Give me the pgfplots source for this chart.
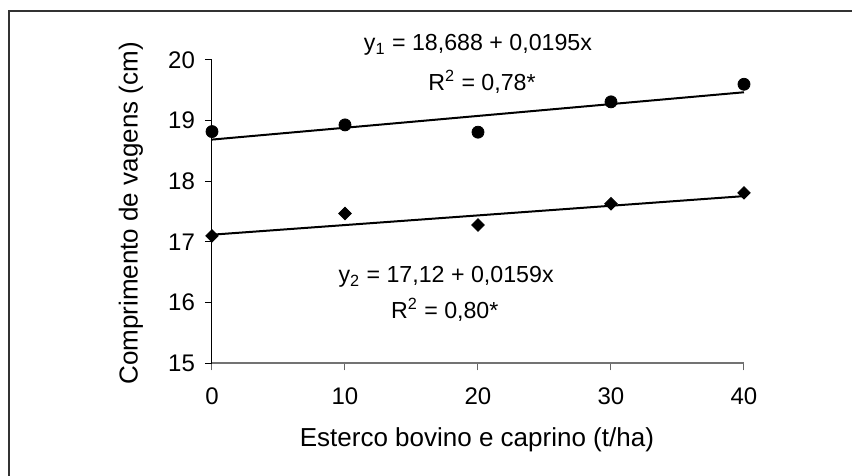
\documentclass[border=0pt]{standalone}
\usepackage{pgfplots}
\pgfplotsset{compat=1.18}
\usepackage{fontspec}
\setmainfont{Liberation Sans}
\begin{document}
\begin{tikzpicture}
\useasboundingbox (0pt,0pt) rectangle (426pt,238pt);
\draw[line width=0.9pt, black!80] (4.5pt,0pt) -- (4.5pt,232.5pt) -- (426pt,232.5pt);
\begin{axis}[
  at={(106pt,56.35pt)}, anchor=south west,
  scale only axis, width=266pt, height=151.65pt,
  xmin=0, xmax=40, ymin=15, ymax=20,
  axis x line=bottom, axis y line=left,
  axis line style={-},
  x axis line style={draw=black!55, line width=0.9pt},
  y axis line style={draw=black, line width=0.5pt},
  xtick={0,10,20,30,40}, ytick={15,16,17,18,19,20},
  tick align=outside, major tick length=3.5pt,
  xtick style={draw=black!60, line width=0.5pt},
  ytick style={draw=black, line width=0.5pt},
  tick label style={font=\fontsize{12}{14}\selectfont},
  /pgf/number format/assume math mode=true,
  xticklabel style={yshift=-5pt},
  yticklabel style={xshift=-1.5pt},
  clip=false,
]
\addplot[black, line width=1pt] coordinates {(0,18.688) (40,19.468)};
\addplot[black, line width=1pt] coordinates {(0,17.12) (40,17.756)};
\addplot[only marks, mark=*, mark size=3pt, black] coordinates {
 (0,18.82) (10,18.93) (20,18.81) (30,19.31) (40,19.60)};
\addplot[only marks, mark=square*, mark size=2.2pt, black, mark options={rotate=45}] coordinates {
 (0,17.10) (10,17.47) (20,17.28) (30,17.63) (40,17.81)};
\node[font=\fontsize{11.6}{13}\selectfont] at (axis cs:20.0,20.25) {y\textsubscript{1} = 18,688 + 0,0195x};
\node[font=\fontsize{11.6}{13}\selectfont] at (axis cs:20.3,19.64) {R\textsuperscript{2} = 0,78*};
\node[font=\fontsize{11.6}{13}\selectfont] at (axis cs:17.6,16.42) {y\textsubscript{2} = 17,12 + 0,0159x};
\node[font=\fontsize{11.6}{13}\selectfont] at (axis cs:17.5,15.88) {R\textsuperscript{2} = 0,80*};
\node[font=\fontsize{13}{15}\selectfont] at (axis cs:19.92,13.74) {Esterco bovino e caprino (t/ha)};
\node[font=\fontsize{13}{15}\selectfont, rotate=90] at (axis cs:-6.09,17.47) {Comprimento de vagens (cm)};
\end{axis}
\end{tikzpicture}
\end{document}
